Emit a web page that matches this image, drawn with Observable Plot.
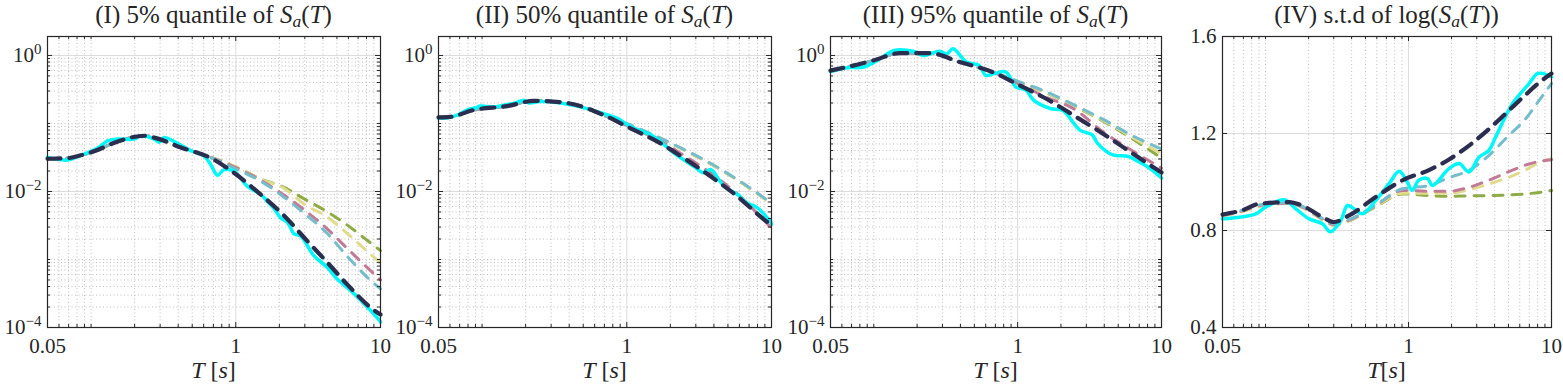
<!DOCTYPE html>
<html><head><meta charset="utf-8">
<script src="https://cdn.jsdelivr.net/npm/d3@7"></script>
<script src="https://cdn.jsdelivr.net/npm/@observablehq/plot@0.6"></script>
<style>
body{margin:0;background:#fff;width:1563px;height:391px;overflow:hidden;font-family:'Liberation Serif',serif;color:#262626}
.panel{position:absolute;top:0;height:391px}
.title{position:absolute;top:0;height:30px;line-height:30px;font-size:25px;text-align:center;white-space:nowrap}
.xlabel{position:absolute;top:357px;height:34px;line-height:26px;font-size:24px;text-align:center;white-space:nowrap}
.panel svg{position:absolute;top:30px;left:0}
sub{font-size:70%;vertical-align:-0.25em;line-height:0}
</style></head>
<body>
<script>
// ---------- tick values ----------
const X_MAJOR = [0.05, 1, 10];
const X_MINOR = [0.06,0.07,0.08,0.09,0.1,0.2,0.3,0.4,0.5,0.6,0.7,0.8,0.9,2,3,4,5,6,7,8,9];
const LOGY_MAJOR = [1e-4, 1e-2, 1];
const LOGY_DECADES = [1e-4, 1e-3, 1e-2, 1e-1, 1];
const MINOR_MULT = [1,2,3,4,5,6,7,8,9];
const STDY_MAJOR = [0.4, 0.8, 1.2, 1.6];

// ---------- Panel I : 5% quantile ----------
const navyT1 = [0.05,0.07,0.085,0.105,0.152,0.233,0.273,0.417,0.672,0.975,1.49,2.16,3.03,4.28,5.89,9.0,10];
const navy1  = [0.0303,0.031,0.034,0.039,0.054,0.066,0.062,0.0443,0.031,0.0187,0.009,0.0044,0.0020,0.00091,0.00043,0.00018,0.000155];
const modT1  = [0.05,0.07,0.085,0.105,0.152,0.233,0.273,0.417,0.672,1,1.5,2.1,3,4.3,5.9,8,10];
const green1  = [0.0303,0.031,0.034,0.039,0.054,0.066,0.062,0.0443,0.032,0.023,0.0152,0.0118,0.0077,0.0050,0.0032,0.00195,0.00135];
const yellow1 = [0.0303,0.031,0.034,0.039,0.054,0.066,0.062,0.0443,0.032,0.023,0.015,0.0115,0.0064,0.0042,0.0024,0.00135,0.00089];
const pink1   = [0.0303,0.031,0.034,0.039,0.054,0.066,0.062,0.0443,0.0315,0.0225,0.0145,0.0092,0.0053,0.0028,0.00145,0.00078,0.0005];
const blue1   = [0.0303,0.031,0.034,0.039,0.054,0.066,0.062,0.0443,0.0315,0.0215,0.014,0.0086,0.0047,0.0024,0.00111,0.00056,0.00037];
const cyanT1 = [0.05,0.0687,0.085,0.111,0.13,0.152,0.199,0.22,0.273,0.296,0.32,0.376,0.489,0.605,0.672,0.748,0.83,0.975,1.2,1.49,1.65,1.85,2.04,2.28,2.52,2.81,3.46,4.28,5.0,6.5,8.1,9.8,10];
const cyan1  = [0.0317,0.029,0.034,0.0435,0.0556,0.059,0.059,0.066,0.059,0.053,0.062,0.054,0.0398,0.033,0.0248,0.0173,0.021,0.0198,0.012,0.009,0.0072,0.0055,0.0041,0.0035,0.0024,0.0022,0.00114,0.00077,0.00052,0.00032,0.0002,0.000128,0.00012];

// ---------- Panel II : 50% quantile ----------
const modT2  = [0.05,0.06,0.088,0.149,0.228,0.387,0.69,1.06,1.71,2.48,3.79,5.8,8.85,10];
const navy2  = [0.123,0.125,0.158,0.18,0.215,0.20,0.133,0.085,0.051,0.031,0.0167,0.0085,0.0039,0.0032];
const blue2  = [0.123,0.125,0.158,0.18,0.215,0.20,0.133,0.095,0.061,0.0415,0.026,0.015,0.0081,0.0067];
const yellow2= [0.123,0.125,0.158,0.18,0.215,0.20,0.133,0.094,0.060,0.041,0.0255,0.0147,0.0079,0.0065];
const green2 = [0.123,0.125,0.158,0.18,0.215,0.20,0.133,0.094,0.0605,0.041,0.0255,0.0148,0.0080,0.0066];
const pink2  = [0.123,0.125,0.158,0.18,0.215,0.20,0.133,0.088,0.055,0.034,0.0187,0.0092,0.0038,0.0029];
const cyanT2 = [0.05,0.058,0.0673,0.08,0.09,0.0975,0.12,0.15,0.17,0.194,0.21,0.25,0.297,0.35,0.455,0.625,0.86,1.06,1.54,2.11,2.9,3.4,3.79,4.69,5.8,6.8,7.96,9.9,10];
const cyan2  = [0.12,0.121,0.133,0.16,0.17,0.18,0.175,0.19,0.20,0.22,0.20,0.21,0.208,0.20,0.18,0.149,0.119,0.09,0.064,0.037,0.0234,0.0188,0.021,0.012,0.0091,0.0068,0.0058,0.0035,0.0033];

// ---------- Panel III : 95% quantile ----------
const modT3  = [0.05,0.065,0.0995,0.152,0.245,0.395,0.67,1.03,1.57,2.53,3.87,6.23,10];
const navy3  = [0.60,0.675,0.845,1.08,1.08,0.80,0.57,0.365,0.233,0.126,0.072,0.0367,0.019];
const blue3  = [0.60,0.675,0.845,1.08,1.08,0.80,0.57,0.41,0.294,0.183,0.117,0.0667,0.042];
const yellow3= [0.60,0.675,0.845,1.08,1.08,0.80,0.57,0.40,0.285,0.178,0.113,0.063,0.036];
const green3 = [0.60,0.675,0.845,1.08,1.08,0.80,0.57,0.40,0.283,0.175,0.11,0.06,0.031];
const pink3  = [0.60,0.675,0.845,1.08,1.08,0.80,0.57,0.375,0.245,0.158,0.077,0.040,0.022];
const cyanT3 = [0.05,0.065,0.085,0.11,0.137,0.188,0.22,0.288,0.32,0.356,0.44,0.54,0.6,0.7,0.83,0.97,1.14,1.29,1.68,2.06,2.71,3.3,3.6,4.54,5.9,6.8,8.3,10];
const cyan3  = [0.58,0.66,0.675,0.89,1.18,1.15,1.0,1.155,1.05,1.25,0.80,0.715,0.51,0.55,0.57,0.345,0.31,0.22,0.166,0.155,0.080,0.068,0.051,0.0347,0.0327,0.028,0.022,0.0158];

// ---------- Panel IV : std of log ----------
const modT4  = [0.05,0.07,0.09,0.146,0.18,0.25,0.3,0.384,0.59,0.906,1.4,1.92,2.65,3.66,4.91,6.6,8.2,10];
const navy4  = [0.866,0.885,0.910,0.917,0.903,0.855,0.835,0.862,0.938,1.007,1.050,1.093,1.150,1.219,1.289,1.36,1.41,1.447];
const blue4  = [0.866,0.885,0.905,0.915,0.90,0.85,0.828,0.845,0.905,0.972,0.986,1.018,1.048,1.110,1.186,1.261,1.337,1.406];
const pink4  = [0.862,0.882,0.903,0.913,0.898,0.848,0.825,0.843,0.903,0.965,0.962,0.962,0.978,1.008,1.04,1.07,1.085,1.092];
const yellow4= [0.86,0.88,0.90,0.912,0.896,0.845,0.822,0.84,0.90,0.954,0.954,0.954,0.968,0.992,1.017,1.05,1.08,1.096];
const green4 = [0.86,0.88,0.90,0.912,0.896,0.845,0.822,0.84,0.898,0.951,0.944,0.941,0.943,0.944,0.946,0.951,0.957,0.965];
const cyanT4 = [0.05,0.0855,0.1,0.135,0.163,0.202,0.25,0.284,0.336,0.374,0.417,0.476,0.59,0.731,0.86,0.98,1.06,1.18,1.36,1.47,1.92,2.26,2.65,3.12,3.66,4.07,5.33,6.97,7.96,8.8,10];
const cyan4  = [0.848,0.869,0.896,0.927,0.889,0.848,0.828,0.795,0.841,0.903,0.889,0.869,0.924,0.993,1.044,1.0,0.965,1.007,1.014,0.986,1.055,1.076,1.041,1.103,1.131,1.186,1.323,1.406,1.447,1.447,1.433];

// ---------- styles ----------
const COL = {green:"#8fab45", yellow:"#e1dc8d", pink:"#c27b96", blue:"#76bdcc", navy:"#2c2e4f", cyan:"#00f7f7"};

const toRows = (T, V) => T.map((t, i) => ({T: t, v: V[i]}));
const logMinor = LOGY_DECADES.flatMap(d => MINOR_MULT.map(m => m * d)).filter(v => v <= 1.9 && !LOGY_MAJOR.some(M => Math.abs(M - v) < 1e-12));

const panels = [
  {left:0, width:390, ml:47, mr:10,
   title:'(I) 5% quantile of <i>S</i><sub><i>a</i></sub>(<i>T</i>)', xlabel:'<i>T</i> [<i>s</i>]',
   log:true, models:[[modT1,green1,"green"],[modT1,yellow1,"yellow"],[modT1,pink1,"pink"],[modT1,blue1,"blue"]],
   navy:[navyT1,navy1], cyan:[cyanT1,cyan1]},
  {left:390, width:390, ml:48, mr:9,
   title:'(II) 50% quantile of <i>S</i><sub><i>a</i></sub>(<i>T</i>)', xlabel:'<i>T</i> [<i>s</i>]',
   log:true, models:[[modT2,green2,"green"],[modT2,yellow2,"yellow"],[modT2,pink2,"pink"],[modT2,blue2,"blue"]],
   navy:[modT2,navy2], cyan:[cyanT2,cyan2]},
  {left:780, width:390, ml:50, mr:9,
   title:'(III) 95% quantile of <i>S</i><sub><i>a</i></sub>(<i>T</i>)', xlabel:'<i>T</i> [<i>s</i>]',
   log:true, models:[[modT3,green3,"green"],[modT3,yellow3,"yellow"],[modT3,pink3,"pink"],[modT3,blue3,"blue"]],
   navy:[modT3,navy3], cyan:[cyanT3,cyan3]},
  {left:1170, width:393, ml:52, mr:12,
   title:'(IV) s.t.d of log(<i>S</i><sub><i>a</i></sub>(<i>T</i>))', xlabel:'<i>T</i>[<i>s</i>]',
   log:false, models:[[modT4,green4,"green"],[modT4,yellow4,"yellow"],[modT4,pink4,"pink"],[modT4,blue4,"blue"]],
   navy:[modT4,navy4], cyan:[cyanT4,cyan4]}
];

const SVGNS = "http://www.w3.org/2000/svg";
const H = 327, MT = 6, MB = 30, PH = H - MT - MB;

for (const p of panels) {
  const PW = p.width - p.ml - p.mr;
  const div = document.createElement("div");
  div.className = "panel";
  div.style.left = p.left + "px";
  div.style.width = p.width + "px";

  const t = document.createElement("div");
  t.className = "title";
  t.style.left = p.ml + "px"; t.style.width = PW + "px";
  t.innerHTML = p.title;
  div.appendChild(t);

  const yMajor = p.log ? LOGY_MAJOR : STDY_MAJOR;
  const yMinor = p.log ? logMinor : [];
  const marks = [
    Plot.ruleX(X_MINOR, {x: d => d, stroke: "#bdbdbd", strokeDasharray: "1,2.5", strokeWidth: 1}),
    Plot.ruleY(yMinor, {y: d => d, stroke: "#bdbdbd", strokeDasharray: "1,2.5", strokeWidth: 1}),
    Plot.ruleX(X_MAJOR, {x: d => d, stroke: "#dcdcdc", strokeWidth: 1}),
    Plot.ruleY(yMajor, {y: d => d, stroke: "#dcdcdc", strokeWidth: 1}),
  ];
  for (const [T, V, c] of p.models) {
    marks.push(Plot.line(toRows(T, V), {x: "T", y: "v", stroke: COL[c], strokeWidth: 3, strokeDasharray: "10,9", curve: "monotone-x"}));
  }
  marks.push(Plot.line(toRows(p.cyan[0], p.cyan[1]), {x: "T", y: "v", stroke: COL.cyan, strokeWidth: 3.5, curve: "catmull-rom"}));
  marks.push(Plot.line(toRows(p.navy[0], p.navy[1]), {x: "T", y: "v", stroke: COL.navy, strokeWidth: 4.2, strokeDasharray: "13,9", curve: "monotone-x"}));
  // inward ticks on all four sides
  const tk = "#262626";
  marks.push(
    Plot.tickX(X_MAJOR, {x: d => d, stroke: tk, insetTop: PH - 5}),
    Plot.tickX(X_MAJOR, {x: d => d, stroke: tk, insetBottom: PH - 5}),
    Plot.tickX(X_MINOR, {x: d => d, stroke: tk, insetTop: PH - 3}),
    Plot.tickX(X_MINOR, {x: d => d, stroke: tk, insetBottom: PH - 3}),
    Plot.tickY(yMajor, {y: d => d, stroke: tk, insetRight: PW - 5}),
    Plot.tickY(yMajor, {y: d => d, stroke: tk, insetLeft: PW - 5}),
    Plot.tickY(yMinor, {y: d => d, stroke: tk, insetRight: PW - 3}),
    Plot.tickY(yMinor, {y: d => d, stroke: tk, insetLeft: PW - 3}),
    Plot.frame({stroke: tk, strokeWidth: 1.2}),
    // tick labels as text marks
    Plot.text(X_MAJOR, {x: d => d, frameAnchor: "bottom", lineAnchor: "top", dy: 11, text: d => String(d), fontSize: 21, fill: tk}),
    Plot.text(yMajor, {y: d => d, frameAnchor: "left", textAnchor: "end", dx: -6,
      text: p.log ? (d => "10^" + Math.round(Math.log10(d))) : (d => d.toFixed(1)), fontSize: 21, fill: tk})
  );

  const svg = Plot.plot({
    width: p.width, height: H, marginLeft: p.ml, marginRight: p.mr, marginTop: MT, marginBottom: MB,
    x: {type: "log", domain: [0.05, 10], label: null, axis: null},
    y: p.log ? {type: "log", domain: [1e-4, 1.9], label: null, axis: null} : {type: "linear", domain: [0.4, 1.6], label: null, axis: null},
    style: {fontFamily: "'Liberation Serif', serif", fontSize: "21px", color: "#262626", background: "transparent", overflow: "visible"},
    marks
  });
  // superscript exponents on log tick labels
  svg.querySelectorAll("text").forEach(el => {
    const s = el.textContent;
    if (s.startsWith("10^")) {
      const e = s.slice(3).replace("-", "\u2212");
      el.textContent = "";
      const a = document.createElementNS(SVGNS, "tspan"); a.textContent = "10";
      const b = document.createElementNS(SVGNS, "tspan"); b.textContent = e;
      b.setAttribute("dy", "-0.55em"); b.setAttribute("font-size", "15px");
      el.append(a, b);
    }
  });
  div.appendChild(svg);

  const xl = document.createElement("div");
  xl.className = "xlabel";
  xl.style.left = p.ml + "px"; xl.style.width = PW + "px";
  xl.innerHTML = p.xlabel;
  div.appendChild(xl);

  document.body.appendChild(div);
}
</script>
</body></html>
